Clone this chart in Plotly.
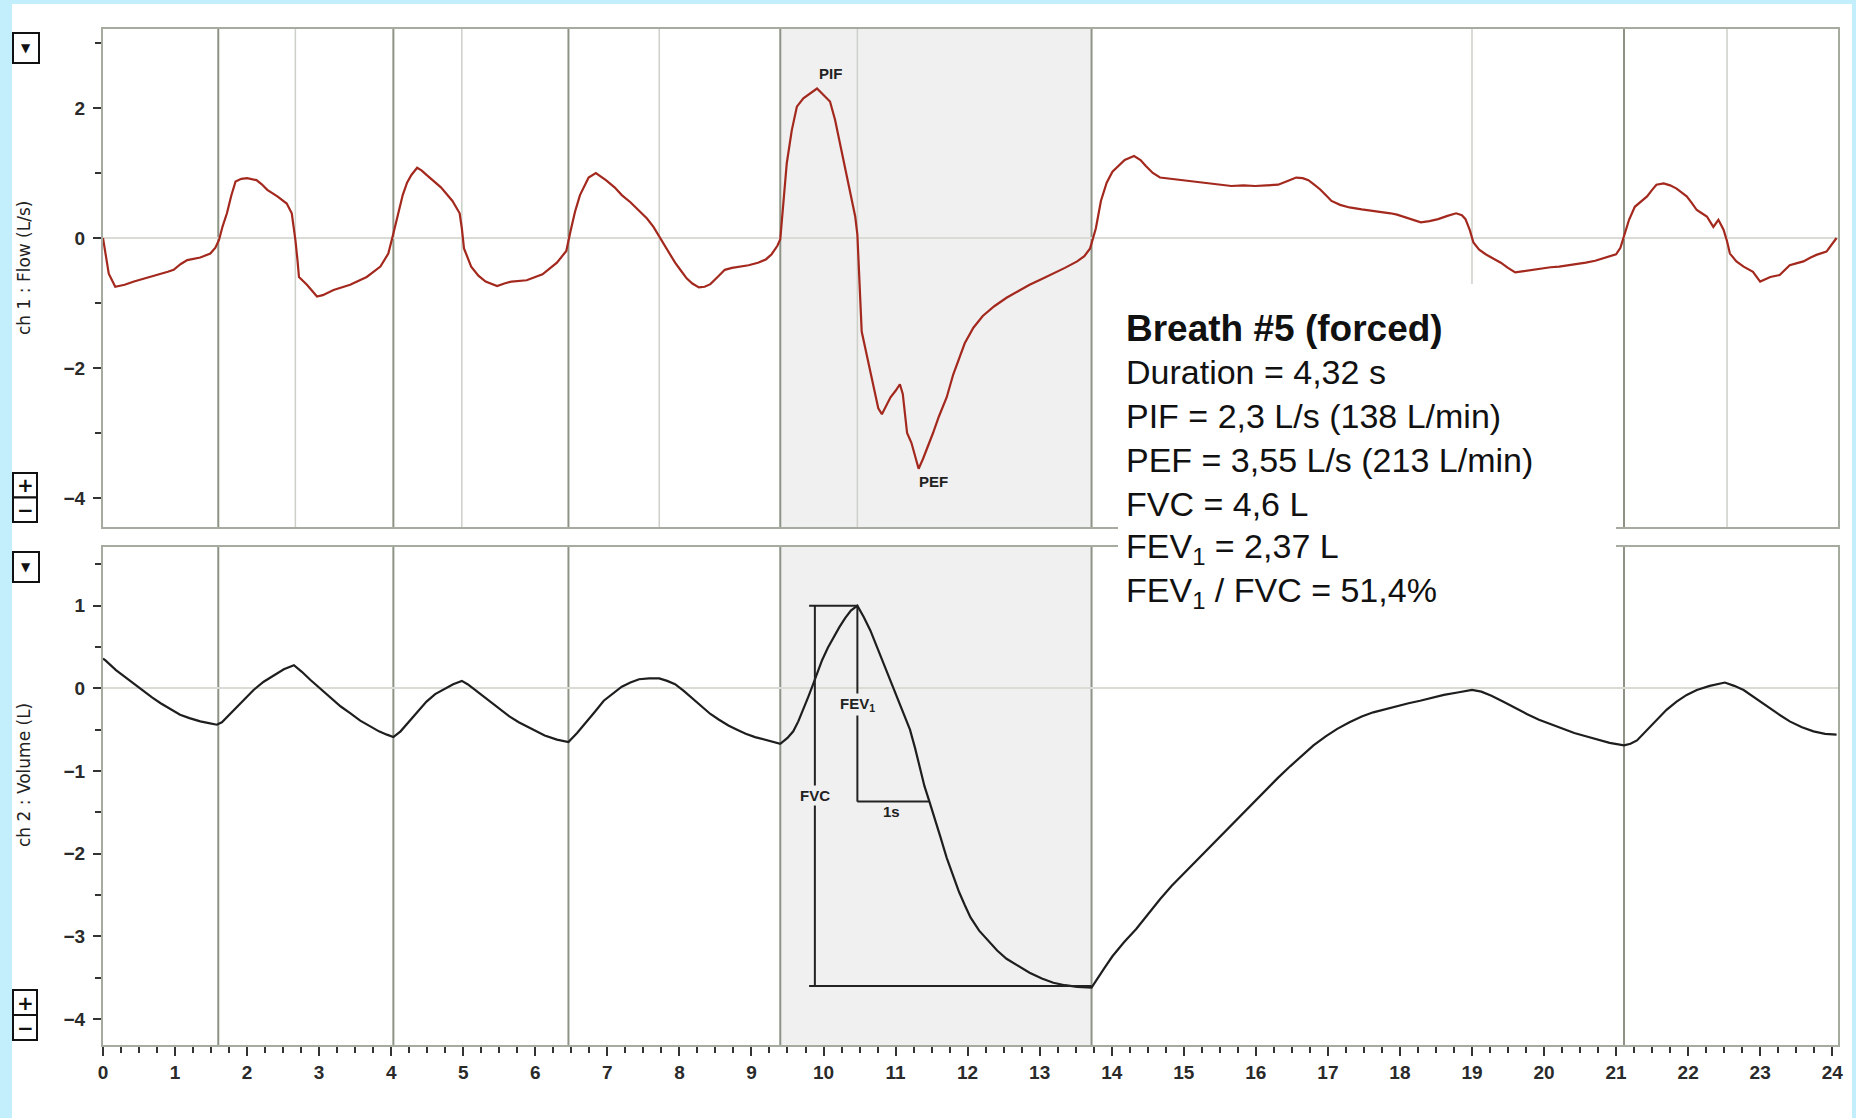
import plotly.graph_objects as go

# ---------------- recorded signals ----------------
# Channel 1: airflow (L/s) against time (s)
flow_t = [0.00, 0.08, 0.17, 0.30, 0.43, 0.60, 0.75, 0.90, 0.98, 1.08, 1.17, 1.35, 1.49, 1.56, 1.61,
          1.66, 1.72, 1.78, 1.84, 1.92, 2.00, 2.13, 2.20, 2.28, 2.42, 2.55, 2.62, 2.65, 2.67, 2.70,
          2.72, 2.83, 2.97, 3.05, 3.20, 3.43, 3.66, 3.85, 3.96, 4.03,
          4.10, 4.16, 4.22, 4.28, 4.36, 4.42, 4.49, 4.58, 4.69, 4.85, 4.95, 4.98, 5.01, 5.11, 5.21,
          5.31, 5.47, 5.57, 5.67, 5.88, 6.10, 6.30, 6.43, 6.49,
          6.55, 6.62, 6.74, 6.84, 6.98, 7.10, 7.20, 7.32, 7.44, 7.55, 7.64, 7.72, 7.77, 7.86, 7.94,
          8.02, 8.10, 8.18, 8.27, 8.35, 8.43, 8.53, 8.63, 8.73, 8.84, 8.96, 9.09, 9.20, 9.28, 9.36,
          9.40, 9.43, 9.49, 9.56, 9.63, 9.72, 9.82, 9.91, 10.00, 10.09, 10.16, 10.23, 10.30, 10.37,
          10.44, 10.47, 10.50, 10.53, 10.60, 10.68, 10.76, 10.81, 10.86, 10.93, 11.00, 11.06, 11.10,
          11.16, 11.22, 11.28, 11.32, 11.38, 11.47, 11.52, 11.60, 11.71, 11.80, 11.88, 11.96, 12.08,
          12.21, 12.37, 12.54, 12.70, 12.86, 13.03, 13.19, 13.35, 13.52, 13.62, 13.70,
          13.78, 13.85, 13.93, 14.01, 14.10, 14.18, 14.31, 14.40, 14.47, 14.57, 14.67, 14.83, 15.00,
          15.16, 15.33, 15.50, 15.66, 15.83, 15.99, 16.15, 16.31, 16.45, 16.56, 16.65, 16.73, 16.81,
          16.89, 16.97, 17.05, 17.17, 17.30, 17.47, 17.63, 17.75, 17.87, 17.96, 18.04, 18.16, 18.29,
          18.41, 18.53, 18.66, 18.78, 18.86, 18.91, 18.97, 19.02, 19.10, 19.19, 19.30, 19.40, 19.50,
          19.60, 19.72, 19.84, 19.96, 20.09, 20.21, 20.34, 20.46, 20.58, 20.71, 20.83, 20.92, 21.00,
          21.06, 21.10,
          21.18, 21.26, 21.34, 21.43, 21.50, 21.56, 21.66, 21.75, 21.84, 21.91, 21.98, 22.05, 22.12,
          22.19, 22.26, 22.35, 22.42, 22.49, 22.54, 22.58, 22.67, 22.77, 22.90, 23.00, 23.07, 23.14,
          23.27, 23.41, 23.50, 23.60, 23.70, 23.78, 23.92, 24.00, 24.06]
flow_v = [0.00, -0.55, -0.75, -0.72, -0.67, -0.62, -0.57, -0.52, -0.49, -0.40, -0.34, -0.30, -0.24, -0.15, -0.03,
          0.18, 0.38, 0.65, 0.87, 0.91, 0.92, 0.89, 0.83, 0.74, 0.64, 0.53, 0.38, 0.15, -0.03, -0.35,
          -0.60, -0.72, -0.90, -0.88, -0.80, -0.72, -0.60, -0.44, -0.24, 0.07,
          0.40, 0.66, 0.85, 0.97, 1.08, 1.04, 0.97, 0.88, 0.78, 0.57, 0.38, 0.15, -0.16, -0.44, -0.58,
          -0.67, -0.74, -0.70, -0.67, -0.65, -0.56, -0.38, -0.20, 0.11,
          0.40, 0.66, 0.93, 1.00, 0.89, 0.78, 0.66, 0.55, 0.42, 0.30, 0.17, 0.02, -0.07, -0.22, -0.38,
          -0.50, -0.62, -0.70, -0.76, -0.75, -0.71, -0.60, -0.49, -0.46, -0.44, -0.42, -0.38, -0.33, -0.25, -0.12,
          -0.02, 0.40, 1.15, 1.66, 2.02, 2.15, 2.23, 2.30, 2.20, 2.10, 1.82, 1.46, 1.10, 0.74,
          0.33, 0.05, -0.60, -1.44, -1.80, -2.20, -2.62, -2.71, -2.60, -2.45, -2.35, -2.25, -2.40,
          -3.00, -3.15, -3.40, -3.55, -3.40, -3.15, -3.00, -2.75, -2.45, -2.10, -1.85, -1.62, -1.38,
          -1.20, -1.05, -0.92, -0.82, -0.72, -0.63, -0.55, -0.46, -0.36, -0.28, -0.16,
          0.15, 0.57, 0.85, 1.02, 1.12, 1.20, 1.26, 1.20, 1.11, 1.00, 0.93, 0.91, 0.89,
          0.87, 0.84, 0.82, 0.80, 0.81, 0.80, 0.81, 0.82, 0.88, 0.93, 0.92, 0.89, 0.82,
          0.75, 0.66, 0.57, 0.51, 0.47, 0.44, 0.42, 0.40, 0.38, 0.36, 0.33, 0.28, 0.24,
          0.26, 0.29, 0.34, 0.38, 0.35, 0.29, 0.12, -0.07, -0.18, -0.25, -0.32, -0.38, -0.46,
          -0.53, -0.51, -0.49, -0.47, -0.45, -0.44, -0.42, -0.40, -0.38, -0.35, -0.31, -0.28, -0.25,
          -0.15, 0.00,
          0.28, 0.48, 0.56, 0.64, 0.74, 0.82, 0.84, 0.81, 0.76, 0.70, 0.64, 0.54, 0.43,
          0.38, 0.33, 0.17, 0.28, 0.13, -0.05, -0.24, -0.36, -0.44, -0.52, -0.67, -0.63, -0.60,
          -0.57, -0.42, -0.39, -0.36, -0.30, -0.26, -0.21, -0.10, 0.00]

# Channel 2: lung volume (L) against time (s)
vol_t = [0.00, 0.03, 0.18, 0.33, 0.45, 0.56, 0.68, 0.80, 0.93, 1.07, 1.20, 1.35, 1.47, 1.58, 1.65,
         1.73, 1.81, 1.95, 2.09, 2.23, 2.37, 2.51, 2.65, 2.76, 2.88, 3.02, 3.16, 3.30, 3.43, 3.57,
         3.71, 3.83, 3.94, 4.03, 4.13, 4.24, 4.36, 4.49, 4.61, 4.73, 4.86, 4.98, 5.06, 5.15, 5.27,
         5.40, 5.52, 5.64, 5.77, 5.89, 6.01, 6.13, 6.30, 6.46, 6.58, 6.71, 6.83, 6.95, 7.08, 7.20,
         7.32, 7.44, 7.58, 7.72, 7.83, 7.94, 8.06, 8.18, 8.30, 8.43, 8.55, 8.68, 8.80, 8.92, 9.05,
         9.17, 9.29, 9.40, 9.50, 9.58, 9.65, 9.72, 9.79, 9.86, 9.92, 9.98, 10.06, 10.14, 10.22,
         10.30, 10.38, 10.47, 10.56, 10.65, 10.74, 10.83, 10.92, 11.02, 11.11, 11.20, 11.27, 11.34,
         11.40, 11.47, 11.54, 11.62, 11.71, 11.80, 11.88, 11.96, 12.04, 12.16, 12.29, 12.41, 12.54,
         12.70, 12.86, 13.03, 13.19, 13.35, 13.52, 13.72, 13.80, 13.90, 14.01, 14.17, 14.34, 14.50,
         14.67, 14.83, 15.00, 15.16, 15.33, 15.50, 15.66, 15.83, 15.99, 16.15, 16.31, 16.48, 16.64,
         16.80, 16.97, 17.13, 17.30, 17.47, 17.63, 17.80, 17.96, 18.12, 18.28, 18.45, 18.61, 18.80,
         19.00, 19.13, 19.27, 19.43, 19.60, 19.76, 19.93, 20.08, 20.25, 20.42, 20.58, 20.75, 20.91,
         21.11, 21.20, 21.29, 21.42, 21.56, 21.70, 21.84, 21.98, 22.12, 22.30, 22.51, 22.64, 22.77,
         22.93, 23.09, 23.25, 23.41, 23.58, 23.74, 23.90, 24.06]
vol_v = [0.36, 0.34, 0.22, 0.12, 0.04, -0.04, -0.11, -0.18, -0.25, -0.32, -0.36, -0.40, -0.42, -0.44, -0.41,
         -0.34, -0.26, -0.14, -0.02, 0.08, 0.16, 0.23, 0.28, 0.20, 0.10, -0.01, -0.12, -0.22, -0.30, -0.39,
         -0.46, -0.52, -0.56, -0.59, -0.52, -0.41, -0.28, -0.16, -0.07, -0.01, 0.05, 0.09, 0.05, -0.01, -0.09,
         -0.18, -0.26, -0.34, -0.41, -0.46, -0.52, -0.57, -0.62, -0.65, -0.54, -0.41, -0.28, -0.15, -0.06, 0.02,
         0.07, 0.11, 0.12, 0.12, 0.09, 0.05, -0.03, -0.12, -0.22, -0.31, -0.38, -0.45, -0.50, -0.55, -0.59,
         -0.62, -0.65, -0.67, -0.60, -0.52, -0.40, -0.26, -0.10, 0.06, 0.20, 0.34, 0.49, 0.62, 0.74,
         0.85, 0.94, 1.00, 0.86, 0.70, 0.50, 0.30, 0.10, -0.10, -0.30, -0.50, -0.72, -0.95,
         -1.18, -1.37, -1.58, -1.79, -2.05, -2.28, -2.46, -2.62, -2.77, -2.93, -3.06, -3.17, -3.27,
         -3.36, -3.44, -3.51, -3.56, -3.59, -3.61, -3.62, -3.52, -3.38, -3.24, -3.07, -2.91, -2.73,
         -2.55, -2.39, -2.24, -2.09, -1.95, -1.80, -1.65, -1.51, -1.37, -1.22, -1.08, -0.94, -0.81,
         -0.69, -0.58, -0.49, -0.41, -0.34, -0.29, -0.25, -0.22, -0.18, -0.15, -0.11, -0.08, -0.05,
         -0.02, -0.04, -0.09, -0.16, -0.24, -0.31, -0.38, -0.43, -0.49, -0.54, -0.58, -0.62, -0.66,
         -0.69, -0.67, -0.63, -0.51, -0.38, -0.26, -0.16, -0.08, -0.02, 0.03, 0.07, 0.03, -0.02,
         -0.12, -0.22, -0.31, -0.40, -0.47, -0.52, -0.55, -0.56]

# breath detection results
breath_bounds = [1.60, 4.03, 6.46, 9.40, 13.72, 21.11]   # start of each breath cycle
insp_ends = [2.67, 4.98, 7.72, 10.47, 19.00, 22.54]      # end of inspiration markers

# forced breath #5 measurements
forced_start, forced_end = 9.40, 13.72
pif_t, pif_v = 9.91, 2.30
pef_t, pef_v = 11.32, -3.55
vol_peak_t, vol_peak = 10.47, 1.00
vol_min_t, vol_min = 13.72, -3.60
fev1 = 2.37
fvc_marker_t = 9.88

summary_title = "Breath #5 (forced)"
summary_lines = ["Duration = 4,32 s",
                 "PIF = 2,3 L/s (138 L/min)",
                 "PEF = 3,55 L/s (213 L/min)",
                 "FVC = 4,6 L",
                 "FEV<sub>1</sub> = 2,37 L",
                 "FEV<sub>1</sub> / FVC = 51,4%"]

x_ticks = list(range(0, 25))
flow_ticks = [-4, -2, 0, 2]
vol_ticks = [-4, -3, -2, -1, 0, 1]

flow_title = "ch 1 : Flow (L/s)"
vol_title = "ch 2 : Volume (L)"

# ---------------- page geometry ----------------
W, H = 1856, 1118
ML, MR, MT, MB = 103, 18, 29, 73
PW, PH = W - ML - MR, H - MT - MB


def px(x):
    return (x - ML) / PW


def py(y):
    return (H - MB - y) / PH


FRAME = "#a5ab9e"
TICKC = "#333333"
TICKFONT = dict(family="Liberation Sans", size=19, color="#2a2a2a", weight="bold")
SHADE = "#f0f0f0"

fig = go.Figure()

fig.add_trace(go.Scatter(x=flow_t, y=flow_v, mode="lines", xaxis="x", yaxis="y",
                         line=dict(color="#a3281d", width=2.2), hoverinfo="skip"))
fig.add_trace(go.Scatter(x=vol_t, y=vol_v, mode="lines", xaxis="x2", yaxis="y2",
                         line=dict(color="#1e1e1e", width=2.2), hoverinfo="skip"))

# FVC / FEV1 construction lines on the volume channel
fev_level = vol_peak - fev1
bracket = [
    ([9.80, vol_peak_t], [vol_peak, vol_peak]),
    ([fvc_marker_t, fvc_marker_t], [vol_peak, vol_min]),
    ([9.80, vol_min_t], [vol_min, vol_min]),
    ([vol_peak_t, vol_peak_t], [vol_peak, fev_level]),
    ([vol_peak_t, vol_peak_t + 1.0], [fev_level, fev_level]),
]
for bx, by in bracket:
    fig.add_trace(go.Scatter(x=bx, y=by, mode="lines", xaxis="x2", yaxis="y2",
                             line=dict(color="#222222", width=2), hoverinfo="skip"))

shapes = []
# white card on the blue page
shapes.append(dict(type="rect", xref="paper", yref="paper", x0=px(12), x1=px(1852),
                   y0=py(H + 10), y1=py(4), fillcolor="white", line_width=0, layer="below"))
# forced breath highlight
for ya in ["y", "y2"]:
    shapes.append(dict(type="rect", xref="x", yref=f"{ya} domain", x0=forced_start, x1=forced_end,
                       y0=0, y1=1, fillcolor=SHADE, line_width=0, layer="below"))
# inspiration end markers (flow channel only)
for t in insp_ends:
    shapes.append(dict(type="line", xref="x", yref="y domain", x0=t, x1=t, y0=0, y1=1,
                       line=dict(color="#cdd0c8", width=1.5), layer="below"))
# breath boundaries
for ya in ["y", "y2"]:
    for t in breath_bounds:
        shapes.append(dict(type="line", xref="x", yref=f"{ya} domain", x0=t, x1=t, y0=0, y1=1,
                           line=dict(color="#8d9486", width=2), layer="below"))
# summary box
shapes.append(dict(type="rect", xref="paper", yref="paper", x0=px(1118), x1=px(1616),
                   y0=py(630), y1=py(284), fillcolor="white", line_width=0, layer="above"))

annotations = []
# control buttons beside each channel
for top, bot, arrow_top, arrow_bot in [(33, 63, 473, 522), (552, 582, 990, 1040)]:
    shapes.append(dict(type="rect", xref="paper", yref="paper", x0=px(13), x1=px(39),
                       y0=py(bot), y1=py(top), fillcolor="white", line=dict(color="#111", width=2),
                       layer="above"))
    annotations.append(dict(x=px(26), y=py((top + bot) / 2), xref="paper", yref="paper",
                            text="▼", showarrow=False,
                            font=dict(size=12, color="#111", family="DejaVu Sans"),
                            xanchor="center", yanchor="middle"))
    mid = (arrow_top + arrow_bot) / 2
    for (a, b, sym) in [(arrow_top, mid, "+"), (mid, arrow_bot, "−")]:
        shapes.append(dict(type="rect", xref="paper", yref="paper", x0=px(13), x1=px(37),
                           y0=py(b), y1=py(a), fillcolor="white", line=dict(color="#111", width=2),
                           layer="above"))
        annotations.append(dict(x=px(25), y=py((a + b) / 2), xref="paper", yref="paper",
                                text=f"<b>{sym}</b>", showarrow=False,
                                font=dict(size=20, color="#111", family="DejaVu Sans"),
                                xanchor="center", yanchor="middle"))

# channel titles
annotations.append(dict(x=px(24), y=py(268), xref="paper", yref="paper", text=flow_title,
                        textangle=-90, showarrow=False, xanchor="center", yanchor="middle",
                        font=dict(family="DejaVu Sans", size=17, color="#222")))
annotations.append(dict(x=px(24), y=py(775), xref="paper", yref="paper", text=vol_title,
                        textangle=-90, showarrow=False, xanchor="center", yanchor="middle",
                        font=dict(family="DejaVu Sans", size=17, color="#222")))

small = dict(family="Liberation Sans", size=15, color="#222", weight="bold")
annotations.append(dict(x=pif_t, y=pif_v + 0.23, xref="x", yref="y", text="PIF", showarrow=False,
                        xanchor="left", yanchor="middle", font=small))
annotations.append(dict(x=pef_t - 0.02, y=pef_v - 0.2, xref="x", yref="y", text="PEF", showarrow=False,
                        xanchor="left", yanchor="middle", font=small))
annotations.append(dict(x=vol_peak_t, y=-0.20, xref="x2", yref="y2", text="FEV<sub>1</sub>",
                        showarrow=False, xanchor="center", yanchor="middle", font=small,
                        bgcolor=SHADE, borderpad=1))
annotations.append(dict(x=fvc_marker_t, y=-1.29, xref="x2", yref="y2", text="FVC",
                        showarrow=False, xanchor="center", yanchor="middle", font=small,
                        bgcolor=SHADE, borderpad=1))
annotations.append(dict(x=vol_peak_t + 0.47, y=fev_level - 0.12, xref="x2", yref="y2", text="1s",
                        showarrow=False, xanchor="center", yanchor="middle", font=small))

# summary text
box_font = dict(family="Liberation Sans", size=34, color="#111")
annotations.append(dict(x=px(1124), y=py(328), xref="paper", yref="paper",
                        text=f"<b>{summary_title}</b>", showarrow=False,
                        xanchor="left", yanchor="middle",
                        font=dict(family="Liberation Sans", size=37, color="#111")))
for i, line in enumerate(summary_lines):
    annotations.append(dict(x=px(1124), y=py(372 + 44 * i), xref="paper", yref="paper",
                            text=line, showarrow=False, xanchor="left", yanchor="middle",
                            font=box_font))

top_dom = [py(527), 1.0]
bot_dom = [0.0, py(547)]

axis_common = dict(showline=True, linecolor=FRAME, linewidth=2, mirror=True, showgrid=False)

fig.update_layout(
    width=W, height=H,
    margin=dict(l=ML, r=MR, t=MT, b=MB),
    paper_bgcolor="#c3effc",
    plot_bgcolor="white",
    showlegend=False,
    shapes=shapes,
    annotations=annotations,
    xaxis=dict(domain=[0, 1], anchor="y", range=[0, 24.08], showticklabels=False, ticks="",
               zeroline=False, **axis_common),
    yaxis=dict(domain=top_dom, anchor="x", range=[-4.446, 3.215], tickvals=flow_ticks,
               ticks="outside", ticklen=8, tickwidth=2, tickcolor=TICKC, tickfont=TICKFONT,
               ticklabelstandoff=4,
               minor=dict(dtick=1, ticks="outside", ticklen=6, tickwidth=2, tickcolor=TICKC),
               zeroline=True, zerolinecolor="#d9dcd5", zerolinewidth=2, **axis_common),
    xaxis2=dict(domain=[0, 1], anchor="y2", range=[0, 24.08], tickvals=x_ticks,
                ticks="outside", ticklen=9, tickwidth=2, tickcolor=TICKC, tickfont=TICKFONT,
                minor=dict(dtick=0.25, ticks="outside", ticklen=6, tickwidth=2, tickcolor=TICKC),
                zeroline=False, **axis_common),
    yaxis2=dict(domain=bot_dom, anchor="x2", range=[-4.313, 1.709], tickvals=vol_ticks,
                ticks="outside", ticklen=8, tickwidth=2, tickcolor=TICKC, tickfont=TICKFONT,
                ticklabelstandoff=4,
                minor=dict(dtick=0.5, ticks="outside", ticklen=6, tickwidth=2, tickcolor=TICKC),
                zeroline=True, zerolinecolor="#d9dcd5", zerolinewidth=2, **axis_common),
)

fig.write_html("out.html")
